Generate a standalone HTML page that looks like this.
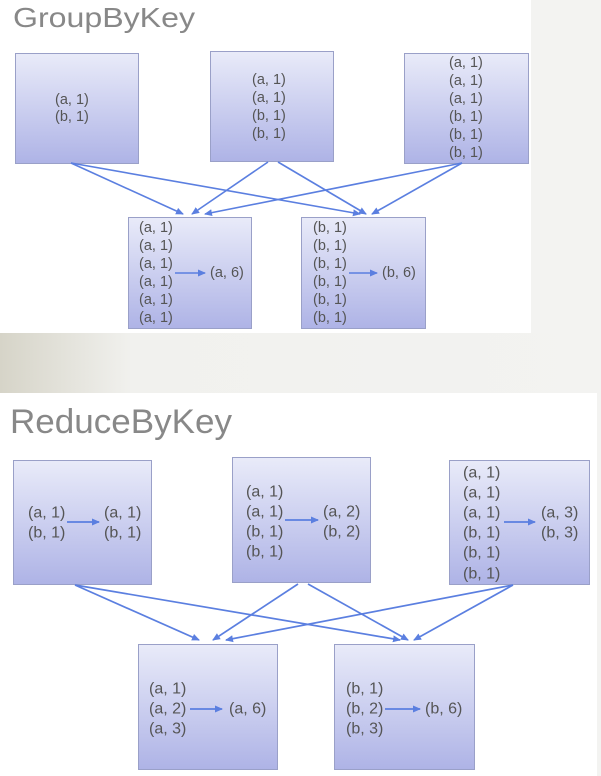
<!DOCTYPE html>
<html><head><meta charset="utf-8"><style>
html,body{margin:0;padding:0;width:601px;height:776px;overflow:hidden;background:#f3f3f1}
svg{display:block}
text{font-family:"Liberation Sans",sans-serif;fill:#555}
</style></head><body>
<svg width="601" height="776" viewBox="0 0 601 776">
<defs>
<linearGradient id="g" x1="0" y1="0" x2="0" y2="1">
<stop offset="0" stop-color="#e9ebf9"/><stop offset="1" stop-color="#aeb3e6"/>
</linearGradient>
<linearGradient id="band" x1="0" y1="0" x2="1" y2="0">
<stop offset="0" stop-color="#d6d4c8"/><stop offset="0.22" stop-color="#f1f1ee"/><stop offset="1" stop-color="#f3f3f1"/>
</linearGradient>
<marker id="ah" markerWidth="8" markerHeight="8" refX="7" refY="4" orient="auto" markerUnits="userSpaceOnUse">
<path d="M0,0.5 L8,4 L0,7.5 Z" fill="#5b7fe0"/>
</marker>
</defs>
<rect x="0" y="0" width="601" height="776" fill="#f3f3f1"/>
<rect x="0" y="0" width="531" height="333" fill="#fff"/>
<rect x="0" y="333" width="601" height="60" fill="url(#band)"/>
<rect x="0" y="393" width="597" height="383" fill="#fff"/>

<!-- TOP -->
<text x="13" y="27" font-size="28" fill="#888" style="fill:#888" textLength="182" lengthAdjust="spacingAndGlyphs">GroupByKey</text>
<g stroke="#9aa0c8" stroke-width="1" fill="url(#g)">
<rect x="15.5" y="53.5" width="123" height="110"/>
<rect x="210.5" y="51.5" width="123" height="110"/>
<rect x="404.5" y="53.5" width="124" height="110"/>
<rect x="128.5" y="217.5" width="123" height="111"/>
<rect x="301.5" y="217.5" width="124" height="111"/>
</g>
<g stroke="#5b7fe0" stroke-width="1.6" fill="none" marker-end="url(#ah)">
<line x1="71" y1="163" x2="183" y2="214"/>
<line x1="71" y1="163" x2="360" y2="214"/>
<line x1="268" y1="162" x2="192" y2="214"/>
<line x1="278" y1="162" x2="366" y2="214"/>
<line x1="462" y1="163" x2="205" y2="214"/>
<line x1="462" y1="163" x2="372" y2="214"/>
<line x1="175" y1="273" x2="205" y2="273"/>
<line x1="349" y1="273" x2="377" y2="273"/>
</g>
<g font-size="14.5" dominant-baseline="central">
<text x="55" y="100">(a, 1)</text><text x="55" y="117">(b, 1)</text>
<text x="252" y="80">(a, 1)</text><text x="252" y="98">(a, 1)</text><text x="252" y="116">(b, 1)</text><text x="252" y="134">(b, 1)</text>
<text x="449" y="63">(a, 1)</text><text x="449" y="81">(a, 1)</text><text x="449" y="99">(a, 1)</text><text x="449" y="117">(b, 1)</text><text x="449" y="135">(b, 1)</text><text x="449" y="153">(b, 1)</text>
<text x="139" y="228">(a, 1)</text><text x="139" y="246">(a, 1)</text><text x="139" y="264">(a, 1)</text><text x="139" y="282">(a, 1)</text><text x="139" y="300">(a, 1)</text><text x="139" y="318">(a, 1)</text>
<text x="210" y="273">(a, 6)</text>
<text x="313" y="228">(b, 1)</text><text x="313" y="246">(b, 1)</text><text x="313" y="264">(b, 1)</text><text x="313" y="282">(b, 1)</text><text x="313" y="300">(b, 1)</text><text x="313" y="318">(b, 1)</text>
<text x="382" y="273">(b, 6)</text>
</g>

<!-- BOTTOM -->
<text x="10" y="433" font-size="34" style="fill:#888" textLength="222" lengthAdjust="spacingAndGlyphs">ReduceByKey</text>
<g stroke="#9aa0c8" stroke-width="1" fill="url(#g)">
<rect x="13.5" y="460.5" width="138" height="124"/>
<rect x="232.5" y="457.5" width="138" height="125"/>
<rect x="449.5" y="460.5" width="140" height="124"/>
<rect x="138.5" y="644.5" width="139" height="125"/>
<rect x="334.5" y="644.5" width="140" height="125"/>
</g>
<g stroke="#5b7fe0" stroke-width="1.7" fill="none" marker-end="url(#ah)">
<line x1="75" y1="585" x2="199" y2="640"/>
<line x1="75" y1="585" x2="400" y2="640"/>
<line x1="298" y1="584" x2="213" y2="640"/>
<line x1="308" y1="584" x2="408" y2="640"/>
<line x1="513" y1="585" x2="226" y2="640"/>
<line x1="513" y1="585" x2="414" y2="640"/>
<line x1="67" y1="522" x2="99" y2="522"/>
<line x1="285" y1="520" x2="318" y2="520"/>
<line x1="504" y1="522" x2="535" y2="522"/>
<line x1="190" y1="709" x2="222" y2="709"/>
<line x1="385" y1="709" x2="420" y2="709"/>
</g>
<g font-size="16" dominant-baseline="central">
<text x="28" y="513">(a, 1)</text><text x="28" y="533">(b, 1)</text>
<text x="104" y="513">(a, 1)</text><text x="104" y="533">(b, 1)</text>
<text x="246" y="492">(a, 1)</text><text x="246" y="512">(a, 1)</text><text x="246" y="532">(b, 1)</text><text x="246" y="552">(b, 1)</text>
<text x="323" y="512">(a, 2)</text><text x="323" y="532">(b, 2)</text>
<text x="463" y="473">(a, 1)</text><text x="463" y="493">(a, 1)</text><text x="463" y="513">(a, 1)</text><text x="463" y="533">(b, 1)</text><text x="463" y="553">(b, 1)</text><text x="463" y="574">(b, 1)</text>
<text x="541" y="513">(a, 3)</text><text x="541" y="533">(b, 3)</text>
<text x="149" y="689">(a, 1)</text><text x="149" y="709">(a, 2)</text><text x="149" y="729">(a, 3)</text>
<text x="229" y="709">(a, 6)</text>
<text x="346" y="689">(b, 1)</text><text x="346" y="709">(b, 2)</text><text x="346" y="729">(b, 3)</text>
<text x="425" y="709">(b, 6)</text>
</g>
</svg>
</body></html>
